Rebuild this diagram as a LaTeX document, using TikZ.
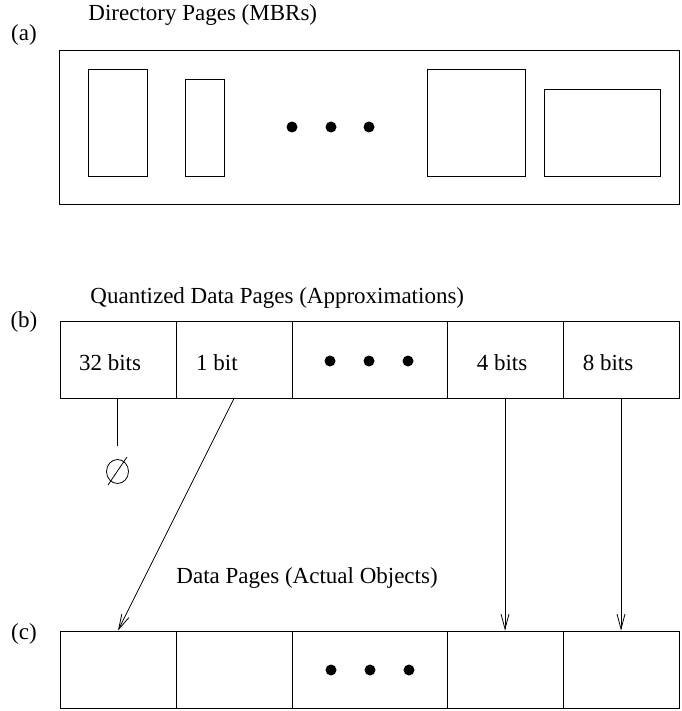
\documentclass[tikz,border=0pt]{standalone}
\usepackage{fontspec}
\setmainfont{Liberation Serif}
\usetikzlibrary{arrows.meta,shapes.geometric,calc}
\begin{document}
\begin{tikzpicture}[x=1pt,y=-1pt,
  line width=0.9pt,
  txt/.style={font=\fontsize{23}{27}\selectfont, inner sep=0pt},
  cell/.style={draw, rectangle, inner sep=0pt, minimum height=77pt},
  dot/.style={fill=black, circle, inner sep=0pt, minimum size=11pt},
  ptr/.style={-{Straight Barb[length=15pt,width=8pt]}, line width=0.8pt}]
\useasboundingbox (0,0) rectangle (681,711);

% ---- (a) directory pages holding MBRs
\node[txt, anchor=base] (la) at (24,41) {(a)};
\node[txt, anchor=base west] (ta) at (88,21) {Directory Pages (MBRs)};
\draw (59.5,50) rectangle (679,204);
\draw (88,69) rectangle (147,176);
\draw (185,79) rectangle (224,176);
\draw (427,69) rectangle (525,176);
\draw (544,89) rectangle (660,176);
\node[dot] (ad1) at (292,127) {};
\node[dot] (ad2) at (331,127) {};
\node[dot] (ad3) at (369,127) {};

% ---- (b) quantized data pages
\node[txt, anchor=base] (lb) at (24,327) {(b)};
\node[txt, anchor=base west] (tb) at (90,303.5) {Quantized Data Pages (Approximations)};
\node[cell, minimum width=116pt, minimum height=76.5pt] (b1) at (118,359.75) {};
\node[cell, minimum width=116pt, minimum height=76.5pt] (b2) at (234,359.75) {};
\node[cell, minimum width=155pt, minimum height=76.5pt] (b3) at (369.5,359.75) {};
\node[cell, minimum width=116pt, minimum height=76.5pt] (b4) at (505,359.75) {};
\node[cell, minimum width=116pt, minimum height=76.5pt] (b5) at (621,359.75) {};
\node[txt, anchor=base] (q1) at (110,370) {32 bits};
\node[txt, anchor=base] (q2) at (217,370) {1 bit};
\node[txt, anchor=base] (q4) at (502,370) {4 bits};
\node[txt, anchor=base] (q5) at (608,370) {8 bits};
\node[dot] (bd1) at (330,361) {};
\node[dot] (bd2) at (369,361) {};
\node[dot] (bd3) at (408,361) {};

% ---- (c) data pages with the actual objects
\node[txt, anchor=base] (lc) at (24,639) {(c)};
\node[txt, anchor=base west] (tc) at (176,583) {Data Pages (Actual Objects)};
\node[cell, minimum width=116pt] (c1) at (118,669.5) {};
\node[cell, minimum width=116pt] (c2) at (234,669.5) {};
\node[cell, minimum width=155pt] (c3) at (369.5,669.5) {};
\node[cell, minimum width=116pt] (c4) at (505,669.5) {};
\node[cell, minimum width=116pt] (c5) at (621,669.5) {};
\node[dot] (cd1) at (331,670) {};
\node[dot] (cd2) at (370,670) {};
\node[dot] (cd3) at (409,670) {};

% ---- pointers from approximations to data pages
\node[draw, ellipse, inner sep=0pt, minimum width=22pt, minimum height=24pt, line width=0.8pt] (nil) at (117.5,471.5) {};
\draw[line width=0.8pt] ($(nil.center)+(-9.5,13.5)$) -- ($(nil.center)+(9.5,-14.5)$);
\coordinate (stem) at (117.5,446);
\draw[line width=0.8pt] (b1.south -| stem) -- (stem);
\draw[ptr] (b2.south) -- (c1.north);
\draw[ptr] (b4.south) -- (c4.north);
\draw[ptr] (b5.south) -- (c5.north);
\end{tikzpicture}
\end{document}
